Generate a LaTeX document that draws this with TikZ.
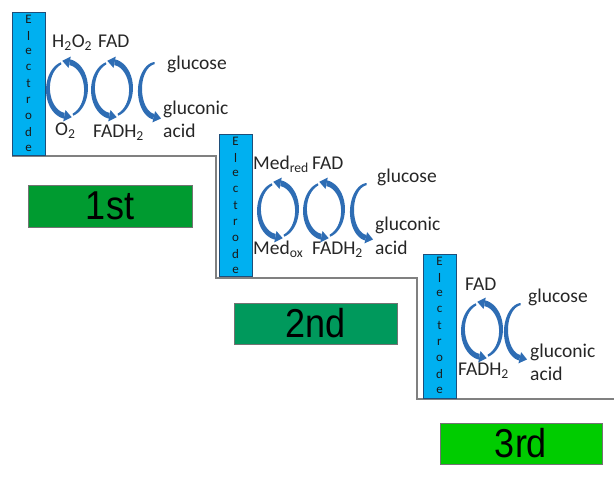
\documentclass[tikz,border=0pt]{standalone}
\usepackage{fontspec}
\setmainfont{Carlito}
\newfontfamily\arialf{Liberation Sans}
\definecolor{elfill}{RGB}{0,176,240}
\definecolor{eldraw}{RGB}{31,78,121}
\definecolor{arcblue}{RGB}{46,109,180}
\definecolor{gOne}{RGB}{0,155,48}
\definecolor{gTwo}{RGB}{0,153,92}
\definecolor{gThree}{RGB}{0,204,0}
\definecolor{stepgray}{RGB}{128,128,128}
% tapered curved arrow: cx cy rx ry start end (canvas angles, increasing)
\newcommand\taparc[6]{%
  \pgfmathsetmacro\tpa{#5}\pgfmathsetmacro\tpb{#6}%
  \pgfmathsetmacro\tpx{-#3*sin(#6)}\pgfmathsetmacro\tpy{-#4*cos(#6)}%
  \pgfmathsetmacro\tpn{sqrt(\tpx*\tpx+\tpy*\tpy)}%
  \pgfmathsetmacro\ux{\tpx/\tpn}\pgfmathsetmacro\uy{\tpy/\tpn}%
  \pgfmathsetmacro\px{#1+#3*cos(#6)}\pgfmathsetmacro\py{#2-#4*sin(#6)}%
  \fill[arcblue]
    plot[domain=\tpa:\tpb,samples=40,smooth]
      ({#1+(#3+(1.1+1.8*(\x-\tpa)/(\tpb-\tpa)))*cos(\x)},{#2-(#4+(1.1+1.8*(\x-\tpa)/(\tpb-\tpa)))*sin(\x)})
    -- plot[domain=\tpb:\tpa,samples=40,smooth]
      ({#1+(#3-(1.1+1.8*(\x-\tpa)/(\tpb-\tpa)))*cos(\x)},{#2-(#4-(1.1+1.8*(\x-\tpa)/(\tpb-\tpa)))*sin(\x)})
    -- cycle;
  \fill[arcblue] ({\px-5.8*\uy},{\py+5.8*\ux}) -- ({\px+5.8*\uy},{\py-5.8*\ux}) -- ({\px+7.5*\ux},{\py+7.5*\uy}) -- cycle;}
\newcommand\redoxcyc[2]{%
  \taparc{#1}{#2}{19}{27}{108}{262}%
  \taparc{#1}{#2}{19}{27}{-72}{82}}
\newcommand\redoxhalf[2]{%
  \taparc{#1}{#2}{16}{27}{95}{262}}
\newcommand\electrodebar[5]{% name x1 y1 x2 y2
  \draw[elbox] (#2,#3) rectangle (#4,#5);
  \foreach \L [count=\i from 0] in {E,l,e,c,t,r,o,d,e}
    \node[eltext] (#1-\i) at ({(#2+#4)/2},{#3+7.5+16.1*\i}) {\L};}
\begin{document}
\begin{tikzpicture}[x=1pt,y=-1pt,
  elbox/.style={fill=elfill,draw=eldraw,line width=0.8pt},
  eltext/.style={inner sep=0pt,font=\fontsize{13}{13}\selectfont,text=black!90},
  lbl/.style={anchor=mid west,inner sep=0pt,font=\fontsize{19.5}{20}\selectfont,text=black!85},
  rank/.style={draw=black!55,line width=0.8pt,inner sep=0pt,font=\fontsize{36}{36}\selectfont\arialf},
  stepline/.style={draw=stepgray,line width=1.6pt}]
\useasboundingbox (0,0) rectangle (614,486);
% stair line
\draw[stepline] (12,156) -- (216,156) -- (216,278) -- (417,278) -- (417,399) -- (614,399);
% electrodes
\electrodebar{e1}{12}{12}{45}{155}
\electrodebar{e2}{219}{134}{252}{276}
\electrodebar{e3}{423}{254}{456}{398}
% stage 1
\redoxcyc{67}{89}
\redoxcyc{112}{89}
\redoxhalf{156}{90}
\node[lbl] (h2o2) at (52,45) {H\textsubscript{2}O\textsubscript{2}};
\node[lbl] (fad1) at (98,45) {FAD};
\node[lbl] (glc1) at (167,67) {glucose};
\node[lbl] (o2) at (55,133) {O\textsubscript{2}};
\node[lbl] (fadh1) at (93,135) {FADH\textsubscript{2}};
\node[lbl] (glu1) at (163,112) {gluconic};
\node[lbl] (acid1) at (163,135) {acid};
% stage 2
\redoxcyc{278}{210}
\redoxcyc{324}{210}
\redoxhalf{368}{211}
\node[lbl] (medred) at (253,167) {Med\textsubscript{red}};
\node[lbl] (fad2) at (312,167) {FAD};
\node[lbl] (glc2) at (377,180) {glucose};
\node[lbl] (medox) at (253,252) {Med\textsubscript{ox}};
\node[lbl] (fadh2) at (312,252) {FADH\textsubscript{2}};
\node[lbl] (glu2) at (375,228) {gluconic};
\node[lbl] (acid2) at (375,252) {acid};
% stage 3
\redoxcyc{482}{330}
\redoxhalf{522}{331}
\node[lbl] (fad3) at (465,288) {FAD};
\node[lbl] (glc3) at (528,300) {glucose};
\node[lbl] (fadh3) at (458,373) {FADH\textsubscript{2}};
\node[lbl] (glu3) at (530,355) {gluconic};
\node[lbl] (acid3) at (530,378) {acid};
% rank boxes
\node[rank,fill=gOne,minimum width=164pt,minimum height=42pt] (r1) at (110,206) {\scalebox{1}[1.12]{1st}};
\node[rank,fill=gTwo,minimum width=163pt,minimum height=41pt] (r2) at (315.5,323.5) {\scalebox{1}[1.12]{2nd}};
\node[rank,fill=gThree,minimum width=162pt,minimum height=41pt] (r3) at (521,443.5) {\scalebox{1}[1.12]{3rd}};
\end{tikzpicture}
\end{document}
